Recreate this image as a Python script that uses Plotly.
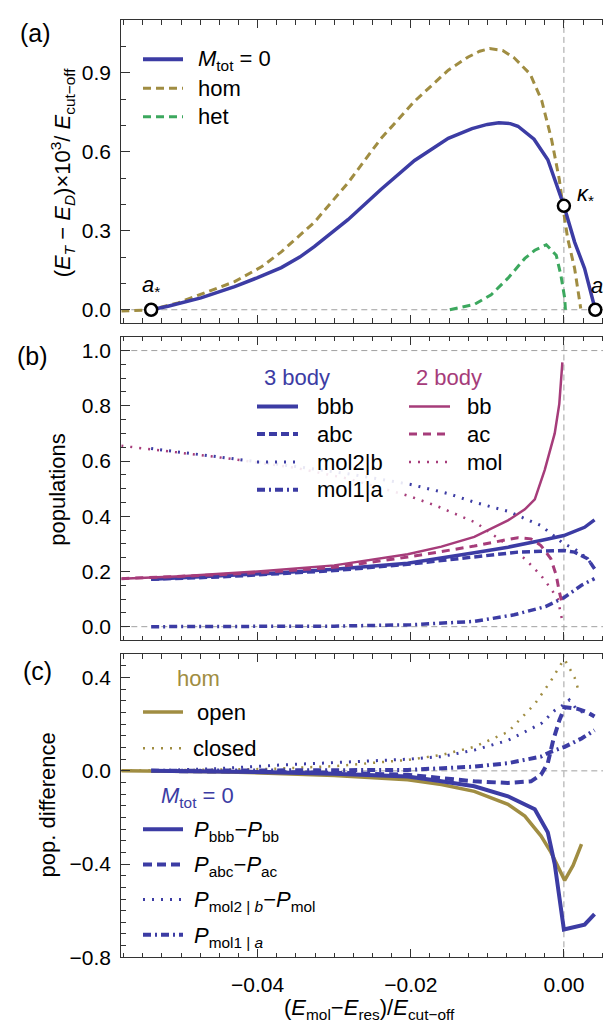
import plotly.graph_objects as go

# ------------------------------------------------------------------ data
# panel (a): (E_T - E_D) x 10^3 / E_cut-off
a_mtot_x = [-0.0539, -0.0517, -0.0474, -0.0430, -0.0400, -0.0369, -0.0345, -0.0326, -0.0282,
            -0.0239, -0.0195, -0.0151, -0.0120, -0.0100, -0.0085, -0.0070, -0.0060, -0.0039,
            -0.0021, -0.0009, 0.0000, 0.0014, 0.0027, 0.0041]
a_mtot_y = [0.000, 0.013, 0.045, 0.088, 0.122, 0.160, 0.200, 0.240, 0.342,
            0.457, 0.567, 0.651, 0.688, 0.704, 0.710, 0.707, 0.697, 0.648,
            0.570, 0.470, 0.395, 0.257, 0.157, 0.000]
a_hom_x = [-0.0578, -0.0539, -0.0504, -0.0469, -0.0430, -0.0395, -0.0369, -0.0326, -0.0282,
           -0.0239, -0.0195, -0.0151, -0.0125, -0.0110, -0.0097, -0.0080, -0.0065, -0.0044,
           -0.0029, -0.0016, -0.0006, 0.0001, 0.0005, 0.0014, 0.0020, 0.0022]
a_hom_y = [-0.005, 0.000, 0.026, 0.064, 0.107, 0.163, 0.220, 0.332, 0.482,
           0.650, 0.792, 0.910, 0.960, 0.982, 0.992, 0.985, 0.957, 0.895,
           0.795, 0.645, 0.495, 0.345, 0.270, 0.157, 0.045, 0.005]
a_het_x = [-0.0149, -0.0117, -0.0095, -0.0073, -0.0051, -0.0038, -0.0023, -0.0010, -0.0004,
           0.0001, 0.0002]
a_het_y = [0.000, 0.020, 0.057, 0.120, 0.195, 0.226, 0.247, 0.207, 0.132,
           0.045, 0.000]
special_x = [-0.0539, 0.0000, 0.0041]
special_y = [0.000, 0.395, 0.000]
special_labels = ["<i>a</i><sub>*</sub>", "<i>κ</i><sub>*</sub>", "<i>a</i><sub>−</sub>"]

# panel (b): populations
b_bb_x = [-0.0578, -0.0500, -0.0400, -0.0300, -0.0204, -0.0160, -0.0117, -0.0073, -0.0051,
          -0.0038, -0.0025, -0.0012, -0.0006, -0.0002]
b_bb_y = [0.174, 0.183, 0.200, 0.222, 0.262, 0.290, 0.325, 0.385, 0.425,
          0.461, 0.568, 0.700, 0.807, 0.957]
b_ac_x = [-0.0578, -0.0450, -0.0386, -0.0300, -0.0204, -0.0117, -0.0073, -0.0060, -0.0043,
          -0.0030, -0.0017, -0.0010, -0.0006, -0.0002]
b_ac_y = [0.174, 0.188, 0.198, 0.215, 0.252, 0.292, 0.316, 0.322, 0.318,
          0.294, 0.246, 0.186, 0.127, 0.080]
b_mol_x = [-0.0578, -0.0517, -0.0440, -0.0350, -0.0280, -0.0202, -0.0166, -0.0115, -0.0073,
           -0.0051, -0.0030, -0.0017, -0.0008, -0.0002]
b_mol_y = [0.655, 0.634, 0.610, 0.575, 0.535, 0.473, 0.437, 0.377, 0.294,
           0.246, 0.186, 0.138, 0.100, 0.020]
b_bbb_x = [-0.0539, -0.0450, -0.0386, -0.0300, -0.0204, -0.0117, -0.0073, -0.0030, 0.0000,
           0.0027, 0.0040]
b_bbb_y = [0.172, 0.183, 0.193, 0.208, 0.230, 0.268, 0.288, 0.312, 0.330,
           0.360, 0.387]
b_abc_x = [-0.0539, -0.0450, -0.0386, -0.0300, -0.0204, -0.0117, -0.0060, 0.0000, 0.0014,
           0.0031, 0.0040]
b_abc_y = [0.172, 0.180, 0.190, 0.203, 0.226, 0.252, 0.270, 0.276, 0.270,
           0.246, 0.210]
b_mol2b_x = [-0.0539, -0.0440, -0.0350, -0.0280, -0.0200, -0.0151, -0.0115, -0.0073, -0.0030,
             0.0000, 0.0014, 0.0031, 0.0040]
b_mol2b_y = [0.645, 0.612, 0.580, 0.553, 0.515, 0.482, 0.449, 0.418, 0.366,
             0.300, 0.282, 0.246, 0.210]
b_mol1a_x = [-0.0539, -0.0300, -0.0200, -0.0117, -0.0065, -0.0024, 0.0000, 0.0023, 0.0040]
b_mol1a_y = [0.000, 0.002, 0.007, 0.019, 0.043, 0.073, 0.105, 0.150, 0.174]

# panel (c): population differences
c_open_x = [-0.0578, -0.0450, -0.0386, -0.0300, -0.0204, -0.0160, -0.0117, -0.0073, -0.0051,
            -0.0030, -0.0017, -0.0006, 0.0001, 0.0012, 0.0023]
c_open_y = [0.000, -0.004, -0.010, -0.020, -0.038, -0.059, -0.088, -0.144, -0.194,
            -0.279, -0.349, -0.420, -0.470, -0.406, -0.314]
c_closed_x = [-0.0578, -0.0450, -0.0386, -0.0300, -0.0204, -0.0160, -0.0117, -0.0073, -0.0038,
              -0.0017, -0.0004, 0.0001, 0.0014, 0.0020]
c_closed_y = [0.000, 0.004, 0.008, 0.020, 0.047, 0.068, 0.103, 0.167, 0.287,
              0.386, 0.457, 0.478, 0.400, 0.336]
c_bbb_x = [-0.0539, -0.0450, -0.0386, -0.0300, -0.0204, -0.0160, -0.0117, -0.0073, -0.0056,
           -0.0038, -0.0021, -0.0012, 0.0000, 0.0027, 0.0040]
c_bbb_y = [0.000, -0.002, -0.006, -0.012, -0.024, -0.045, -0.066, -0.109, -0.137,
           -0.165, -0.264, -0.400, -0.681, -0.660, -0.615]
c_abc_x = [-0.0539, -0.0386, -0.0300, -0.0204, -0.0160, -0.0117, -0.0073, -0.0043, -0.0030,
           -0.0021, -0.0014, -0.0006, 0.0001, 0.0018, 0.0031, 0.0040]
c_abc_y = [0.000, -0.005, -0.008, -0.017, -0.031, -0.045, -0.052, -0.045, -0.017,
           0.033, 0.131, 0.216, 0.273, 0.266, 0.251, 0.233]
c_mol2b_x = [-0.0539, -0.0450, -0.0370, -0.0300, -0.0204, -0.0160, -0.0117, -0.0073, -0.0030,
             -0.0012, 0.0001, 0.0007, 0.0018, 0.0031, 0.0040]
c_mol2b_y = [0.000, 0.010, 0.025, 0.035, 0.050, 0.061, 0.089, 0.131, 0.202,
             0.259, 0.287, 0.304, 0.259, 0.245, 0.237]
c_mol1a_x = [-0.0539, -0.0300, -0.0204, -0.0117, -0.0073, -0.0030, -0.0017, 0.0001, 0.0023, 0.0040]
c_mol1a_y = [0.000, 0.002, 0.004, 0.018, 0.033, 0.061, 0.082, 0.103, 0.139, 0.174]

# ------------------------------------------------------------------ style
W, H = 611, 1032
FONT = "Liberation Sans, Arial, sans-serif"
BLUE = "#3c3ca4"
GOLD = "#a08d42"
GREEN = "#3ca85e"
MAG = "#a63c7a"
FRAME = "#333333"
REF = "#a0a0a0"
DASH = "8px,5px"
DOT = "2px,7px"
DASHDOT = "8px,4px,2px,4px"


def px(x, y):
    return x / W, 1 - y / H


def ydom(top, bot):
    return [1 - bot / H, 1 - top / H]


fig = go.Figure()


def line(xs, ys, ax, color, width, dash="solid"):
    fig.add_trace(go.Scatter(x=xs, y=ys, mode="lines", xaxis=ax[0], yaxis=ax[1],
                             line=dict(color=color, width=width, dash=dash),
                             hoverinfo="skip", showlegend=False))


A = ("x", "y")
B = ("x2", "y2")
C = ("x3", "y3")

# panel a
line(a_hom_x, a_hom_y, A, GOLD, 3, DASH)
line(a_het_x, a_het_y, A, GREEN, 3, DASH)
line(a_mtot_x, a_mtot_y, A, BLUE, 3.5)
fig.add_trace(go.Scatter(x=special_x, y=special_y, mode="markers", xaxis="x", yaxis="y",
                         marker=dict(size=12, color="white", line=dict(color="black", width=2.5)),
                         hoverinfo="skip", showlegend=False, cliponaxis=False))

# panel b
line(b_mol_x, b_mol_y, B, MAG, 2.5, DOT)
line(b_mol2b_x, b_mol2b_y, B, BLUE, 3, DOT)
line(b_mol1a_x, b_mol1a_y, B, BLUE, 3.5, DASHDOT)
line(b_bbb_x, b_bbb_y, B, BLUE, 3.5)
line(b_abc_x, b_abc_y, B, BLUE, 3.5, "8px,4px")
line(b_ac_x, b_ac_y, B, MAG, 3, "8px,6px")
line(b_bb_x, b_bb_y, B, MAG, 2.5)

# panel c
line(c_closed_x, c_closed_y, C, GOLD, 2.5, DOT)
line(c_mol2b_x, c_mol2b_y, C, BLUE, 3, DOT)
line(c_mol1a_x, c_mol1a_y, C, BLUE, 4, DASHDOT)
line(c_abc_x, c_abc_y, C, BLUE, 4, "9px,5px")
line(c_open_x, c_open_y, C, GOLD, 3.5)
line(c_bbb_x, c_bbb_y, C, BLUE, 4)

# ------------------------------------------------------------------ axes
XDOM = [113.3 / W, 609.5 / W]
base = dict(showline=True, linecolor=FRAME, linewidth=1.2, mirror="ticks", ticks="inside",
            tickcolor=FRAME, tickwidth=1, showgrid=False, zeroline=False,
            tickfont=dict(size=21, color="black", family=FONT))
xcommon = dict(base, range=[-0.0578, 0.0070], tick0=0, dtick=0.02, ticklen=8, tickformat=".2f",
               minor=dict(ticks="inside", ticklen=4.5, tickcolor=FRAME, dtick=0.0025, showgrid=False),
               domain=XDOM)
fig.update_layout(
    xaxis=dict(xcommon, anchor="y", showticklabels=False),
    xaxis2=dict(xcommon, anchor="y2", showticklabels=False),
    xaxis3=dict(xcommon, anchor="y3", ticklabelstandoff=8),
    yaxis=dict(base, anchor="x", domain=ydom(12.3, 318.3), range=[-0.05, 1.1], tick0=0, dtick=0.3,
               ticklen=9, tickformat=".1f", ticklabelstandoff=5,
               minor=dict(ticks="inside", ticklen=5, tickcolor=FRAME, dtick=0.1, showgrid=False)),
    yaxis2=dict(base, anchor="x2", domain=ydom(332.3, 639.3), range=[-0.05, 1.05], tick0=0, dtick=0.2,
                ticklen=9, tickformat=".1f", ticklabelstandoff=5,
                minor=dict(ticks="inside", ticklen=5, tickcolor=FRAME, dtick=0.05, showgrid=False)),
    yaxis3=dict(base, anchor="x3", domain=ydom(653.3, 959.5), range=[-0.8, 0.5], tick0=0, dtick=0.4,
                ticklen=9, tickformat=".1f", ticklabelstandoff=5,
                minor=dict(ticks="inside", ticklen=5, tickcolor=FRAME, dtick=0.05, showgrid=False)),
)

# reference lines (gray dashed)
ref_h = {"y": [0.0], "y2": [0.0, 1.0], "y3": [0.0]}
ref_v = [0.0]
for xa, ya in [("x", "y"), ("x2", "y2"), ("x3", "y3")]:
    for yv in ref_h[ya]:
        fig.add_shape(type="line", xref=xa + " domain", x0=0, x1=1, yref=ya, y0=yv, y1=yv,
                      layer="below", line=dict(color=REF, width=1, dash="6px,4px"))
    for xv in ref_v:
        fig.add_shape(type="line", xref=xa, x0=xv, x1=xv, yref=ya + " domain", y0=0, y1=1,
                      layer="below", line=dict(color=REF, width=1, dash="6px,4px"))

ann = []


def text(x, y, s, size=22, color="black", xanchor="left", angle=0, **kw):
    px_, py_ = px(x, y)
    ann.append(dict(x=px_, y=py_, xref="paper", yref="paper", text=s, showarrow=False,
                    xanchor=xanchor, yanchor="middle", textangle=angle,
                    font=dict(size=size, color=color, family=FONT), **kw))


def key(x0, x1, y, color, width, dash="solid"):
    p0 = px(x0, y)
    p1 = px(x1, y)
    fig.add_shape(type="line", xref="paper", yref="paper", x0=p0[0], x1=p1[0], y0=p0[1], y1=p1[1],
                  layer="above", line=dict(color=color, width=width, dash=dash))


# circle labels
shifts = [(0, 24), (22, 11), (6, 23)]
for xv, yv, lab, (dx, dy) in zip(special_x, special_y, special_labels, shifts):
    ann.append(dict(x=xv, y=yv, xref="x", yref="y", text=lab, showarrow=False,
                    xshift=dx, yshift=dy, font=dict(size=22, color="black", family=FONT)))

# panel labels
text(27, 25, "(a)", size=25, xanchor="center")
text(24, 352, "(b)", size=25, xanchor="center")
text(29, 670, "(c)", size=25, xanchor="center")

# axis titles
text(54, 166, "(<i>E</i><sub><i>T</i></sub> − <i>E</i><sub><i>D</i></sub>)×10<sup>3</sup>/ <i>E</i><sub>cut−off</sub>",
     xanchor="center", angle=-90)
text(50, 487, "populations", xanchor="center", angle=-90)
text(39, 806, "pop. difference", xanchor="center", angle=-90)
text(361, 1012, "(<i>E</i><sub>mol</sub>−<i>E</i><sub>res</sub>)/<i>E</i><sub>cut−off</sub>", xanchor="center")

# legend (a)
key(135, 175, 51.7, BLUE, 4)
key(135, 175, 81, GOLD, 3, DASH)
key(135, 175, 110, GREEN, 3, DASH)
text(188, 53, "<i>M</i><sub>tot</sub> = 0")
text(188, 81, "hom")
text(188, 110, "het")

# legend (b) backgrounds
for (x0, y0, x1, y1) in [(238, 356, 395, 502), (395, 356, 500, 474)]:
    p0 = px(x0, y0)
    p1 = px(x1, y1)
    fig.add_shape(type="rect", xref="paper", yref="paper", x0=p0[0], x1=p1[0], y0=p1[1], y1=p0[1],
                  layer="above", line=dict(width=0), fillcolor="rgba(255,255,255,0.88)")
text(289, 373, "3 body", color=BLUE, xanchor="center")
text(441, 373, "2 body", color=MAG, xanchor="center")
rows_b = [402.7, 430.7, 459, 487]
key(249, 290, rows_b[0], BLUE, 4)
key(249, 290, rows_b[1], BLUE, 4, "8px,4px")
key(249, 290, rows_b[2], BLUE, 3, DOT)
key(249, 290, rows_b[3], BLUE, 4, DASHDOT)
for r, s in zip(rows_b, ["bbb", "abc", "mol2|b", "mol1|a"]):
    text(307, r, s)
key(401, 442, rows_b[0], MAG, 2.5)
key(401, 442, rows_b[1], MAG, 3, "8px,6px")
key(401, 442, rows_b[2], MAG, 2.5, DOT)
for r, s in zip(rows_b[:3], ["bb", "ac", "mol"]):
    text(457, r, s)

# legend (c)
text(190, 678, "hom", color=GOLD, xanchor="center")
key(135, 175, 711.7, GOLD, 3.5)
key(135, 175, 748.3, GOLD, 2.5, DOT)
text(187, 711.7, "open")
text(183, 748.3, "closed")
text(189, 797, "<i>M</i><sub>tot</sub> = 0", color=BLUE, xanchor="center")
rows_c = [830, 865.7, 901, 936.7]
key(135, 175, rows_c[0], BLUE, 4)
key(135, 175, rows_c[1], BLUE, 4, "9px,5px")
key(135, 175, rows_c[2], BLUE, 3, DOT)
key(135, 175, rows_c[3], BLUE, 4, DASHDOT)
labels_c = ["<i>P</i><sub>bbb</sub>−<i>P</i><sub>bb</sub>",
            "<i>P</i><sub>abc</sub>−<i>P</i><sub>ac</sub>",
            "<i>P</i><sub>mol2 | <i>b</i></sub>−<i>P</i><sub>mol</sub>",
            "<i>P</i><sub>mol1 | <i>a</i></sub>"]
for r, s in zip(rows_c, labels_c):
    text(184, r + 2, s)

fig.update_layout(width=W, height=H, margin=dict(l=0, r=0, t=0, b=0), autosize=False,
                  paper_bgcolor="white", plot_bgcolor="white", showlegend=False,
                  font=dict(family=FONT, size=22, color="black"), annotations=ann)
fig.write_html("out.html")
